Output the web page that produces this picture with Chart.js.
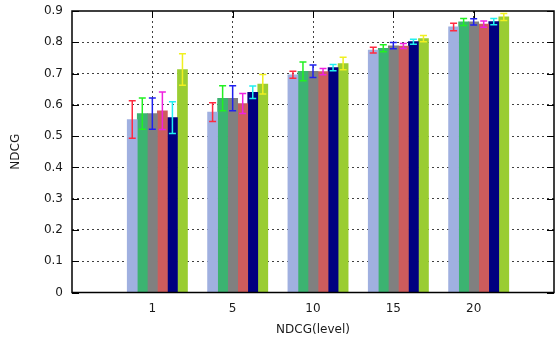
<!DOCTYPE html>
<html>
<head>
<meta charset="utf-8">
<script src="https://cdn.jsdelivr.net/npm/chart.js@4/dist/chart.umd.min.js"></script>
<style>
  html, body { margin: 0; padding: 0; background: #ffffff; }
  #wrap { width: 555px; height: 342px; position: relative; }
</style>
</head>
<body>
<div id="wrap"><canvas id="c" width="555" height="342"></canvas></div>
<script>
// NDCG at each cutoff level, six methods per level
const categories = ['1', '5', '10', '15', '20'];

const series1Values = [0.553, 0.577, 0.696, 0.775, 0.849];
const series2Values = [0.572, 0.621, 0.707, 0.781, 0.865];
const series3Values = [0.572, 0.621, 0.707, 0.789, 0.865];
const series4Values = [0.581, 0.604, 0.706, 0.788, 0.858];
const series5Values = [0.559, 0.640, 0.719, 0.802, 0.866];
const series6Values = [0.713, 0.666, 0.732, 0.812, 0.881];

// half-width of each error bar
const series1Errors = [0.060, 0.030, 0.011, 0.009, 0.012];
const series2Errors = [0.050, 0.040, 0.030, 0.011, 0.011];
const series3Errors = [0.050, 0.040, 0.020, 0.010, 0.010];
const series4Errors = [0.060, 0.032, 0.010, 0.008, 0.010];
const series5Errors = [0.051, 0.020, 0.010, 0.008, 0.010];
const series6Errors = [0.050, 0.031, 0.020, 0.010, 0.011];

const yTicks = [0, 0.1, 0.2, 0.3, 0.4, 0.5, 0.6, 0.7, 0.8, 0.9];

const allValues = [series1Values, series2Values, series3Values, series4Values, series5Values, series6Values];
const allErrors = [series1Errors, series2Errors, series3Errors, series4Errors, series5Errors, series6Errors];
const fillColors = ['#a0b0e0', '#3cb371', '#808080', '#cd5c5c', '#000080', '#9acd32'];
const errorColors = ['#ff2a40', '#22f022', '#2020f0', '#f020e0', '#20f0f0', '#f0f020'];

const BOX = 0.125; // bar width in category units
const datasets = allValues.map((vals, si) => ({
  label: 'series ' + (si + 1),
  data: vals.map((v, ci) => ({ x: ci + (si - 2) * BOX, y: v })),
  errors: allErrors[si],
  errorColor: errorColors[si],
  backgroundColor: fillColors[si],
  borderWidth: 0,
  grouped: false,
  barPercentage: 1,
  categoryPercentage: 1
}));

const FONT = { family: 'DejaVu Sans', size: 12 };
const TEXT = '#1a1a1a';

const frame = {
  id: 'frame',
  afterDatasetsDraw(chart) {
    const { ctx, chartArea: a, scales: { x, y } } = chart;
    ctx.save();
    // error bars
    chart.data.datasets.forEach((ds, di) => {
      const meta = chart.getDatasetMeta(di);
      ctx.strokeStyle = ds.errorColor;
      ctx.lineWidth = 1.5;
      ds.data.forEach((pt, i) => {
        const bar = meta.data[i];
        const cx = bar.x;
        const yt = y.getPixelForValue(pt.y + ds.errors[i]);
        const yb = y.getPixelForValue(pt.y - ds.errors[i]);
        const hw = 3.5;
        ctx.beginPath();
        ctx.moveTo(cx, yt); ctx.lineTo(cx, yb);
        ctx.moveTo(cx - hw, yt); ctx.lineTo(cx + hw, yt);
        ctx.moveTo(cx - hw, yb); ctx.lineTo(cx + hw, yb);
        ctx.stroke();
      });
    });
    // inward ticks
    ctx.strokeStyle = '#000';
    ctx.lineWidth = 1;
    yTicks.forEach(t => {
      const py = Math.round(y.getPixelForValue(t)) + 0.5;
      ctx.beginPath();
      ctx.moveTo(a.left, py); ctx.lineTo(a.left + 7, py);
      ctx.moveTo(a.right, py); ctx.lineTo(a.right - 7, py);
      ctx.stroke();
    });
    categories.forEach((c, ci) => {
      const px = Math.round(x.getPixelForValue(ci)) + 0.5;
      ctx.beginPath();
      ctx.moveTo(px, a.top); ctx.lineTo(px, a.top + 7);
      ctx.stroke();
    });
    // border
    ctx.lineWidth = 1.5;
    ctx.strokeStyle = '#000';
    ctx.strokeRect(a.left, a.top, a.right - a.left, a.bottom - a.top);
    ctx.restore();
  }
};

new Chart(document.getElementById('c'), {
  type: 'bar',
  data: { datasets },
  options: {
    responsive: false,
    animation: false,
    layout: { autoPadding: false, padding: { top: 11, right: 1, left: 0, bottom: 0 } },
    plugins: { legend: { display: false }, tooltip: { enabled: false } },
    scales: {
      x: {
        type: 'linear',
        min: -1,
        max: 5,
        offset: false,
        afterFit(s) { s.height = 49.5; s.paddingLeft = 0; s.paddingRight = 0; },
        afterBuildTicks(s) { s.ticks = [-1, 0, 1, 2, 3, 4, 5].map(v => ({ value: v })); },
        ticks: {
          padding: 9,
          color: TEXT,
          font: FONT,
          maxRotation: 0,
          autoSkip: false,
          callback: v => (v >= 0 && v < categories.length ? categories[v] : '')
        },
        grid: {
          offset: false,
          drawTicks: false,
          color: c => (c.tick && c.tick.value >= 0 && c.tick.value <= 4 ? 'rgba(0,0,0,0.75)' : 'rgba(0,0,0,0)'),
          lineWidth: 1
        },
        border: { display: false, dash: [2, 3] },
        title: { display: true, text: 'NDCG(level)', color: TEXT, font: FONT, padding: { top: 4, bottom: 5 } }
      },
      y: {
        min: 0,
        max: 0.9,
        afterFit(s) { s.width = 72; s.paddingTop = 0; s.paddingBottom = 0; },
        afterBuildTicks(s) { s.ticks = yTicks.map(v => ({ value: v })); },
        ticks: {
          padding: 9,
          color: TEXT,
          font: FONT,
          callback: v => (v === 0 ? '0' : v.toFixed(1))
        },
        grid: {
          drawTicks: false,
          color: c => (c.tick && c.tick.value > 0 && c.tick.value < 0.9 ? 'rgba(0,0,0,0.75)' : 'rgba(0,0,0,0)'),
          lineWidth: 1
        },
        border: { display: false, dash: [2, 3] },
        title: { display: true, text: 'NDCG', color: TEXT, font: FONT, padding: { top: 9, bottom: 0 } }
      }
    }
  },
  plugins: [frame]
});
</script>
</body>
</html>
